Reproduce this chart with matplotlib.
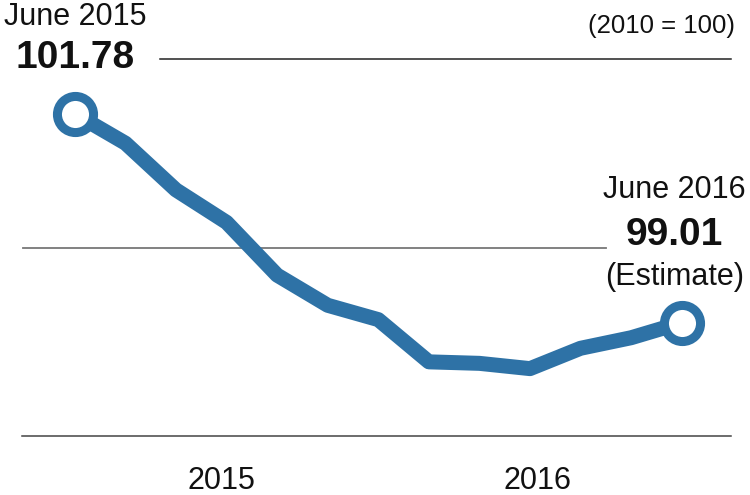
import matplotlib
matplotlib.use('Agg')
import matplotlib.pyplot as plt

months = list(range(13))  # June 2015 .. June 2016
index_values = [101.78, 101.39, 100.77, 100.34, 99.64, 99.24, 99.05,
                98.49, 98.47, 98.40, 98.67, 98.81, 99.01]
grid_levels = [102.5, 100.0, 97.5]
year_labels = ['2015', '2016']
year_pos = [2.9, 9.15]

plt.rcParams['font.family'] = ['Liberation Sans', 'DejaVu Sans']

fig = plt.figure(figsize=(7.5, 4.95), dpi=100)
ax = fig.add_axes([0, 0, 1, 1])
ax.set_xlim(-1.48, 13.35)
ax.set_ylim(96.724, 103.289)
ax.axis('off')

# reference lines
ax.plot([1.68, 12.98], [grid_levels[0]] * 2, color='#222222', lw=1.1)
ax.plot([-1.03, 10.51], [grid_levels[1]] * 2, color='#777777', lw=1.3)
ax.plot([-1.05, 12.98], [grid_levels[2]] * 2, color='#444444', lw=1.1)

line_color = '#2e72a6'
ax.plot(months, index_values, color=line_color, lw=10.8,
        solid_joinstyle='round', solid_capstyle='round', zorder=3)
ax.plot([months[0], months[-1]], [index_values[0], index_values[-1]],
        ls='none', marker='o', ms=26, mfc='white', mec=line_color,
        mew=6.5, zorder=4)

# annotations
ax.text(0, 102.96, 'June 2015', ha='center', va='baseline', fontsize=22,
        color='#111111')
ax.text(0, 102.39, '{:.2f}'.format(index_values[0]), ha='center',
        va='baseline', fontsize=28, fontweight='bold', color='#111111')
ax.text(13.05, 102.85, '(2010 = 100)', ha='right', va='baseline',
        fontsize=18.5, color='#111111')
ax.text(11.85, 100.66, 'June 2016', ha='center', va='baseline', fontsize=22,
        color='#111111')
ax.text(11.85, 100.04, '{:.2f}'.format(index_values[-1]), ha='center',
        va='baseline', fontsize=28, fontweight='bold', color='#111111')
ax.text(11.85, 99.51, '(Estimate)', ha='center', va='baseline', fontsize=22,
        color='#111111')

for lab, x in zip(year_labels, year_pos):
    ax.text(x, 96.80, lab, ha='center', va='baseline', fontsize=22,
            color='#111111')

fig.savefig('out.png', dpi=100, facecolor='white')
